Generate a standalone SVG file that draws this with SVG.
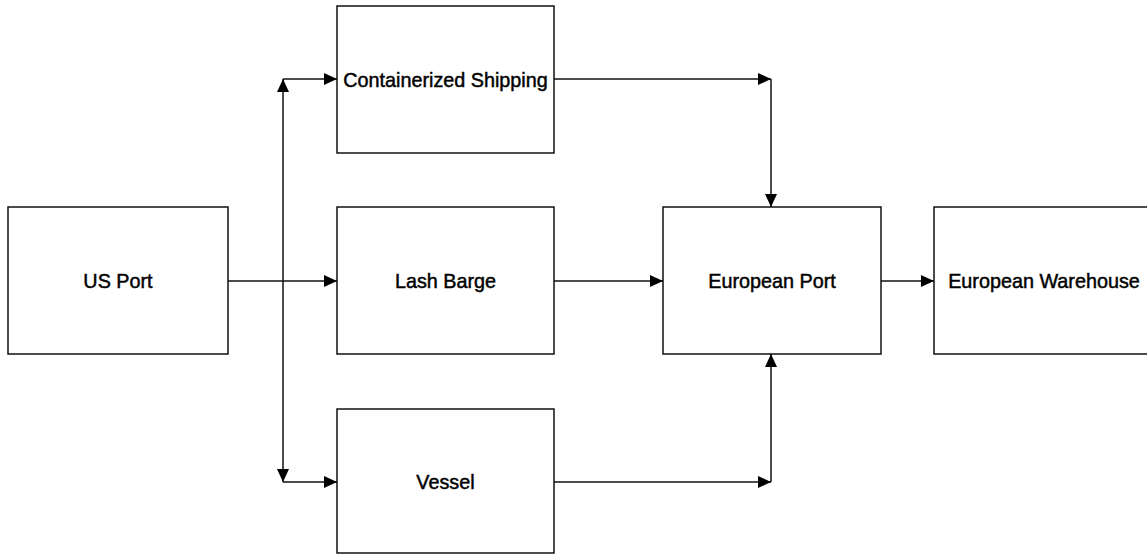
<svg xmlns="http://www.w3.org/2000/svg" width="1147" height="554" viewBox="0 0 1147 554">
<style>
.box{fill:#fff;stroke:#111;stroke-width:1.5}
.lbl{font-family:"Liberation Sans",Arial,sans-serif;font-size:19.8px;fill:#000;stroke:#000;stroke-width:0.45;text-anchor:middle}
.conn{fill:none;stroke:#111;stroke-width:1.5}
</style>
<defs>
<marker id="ah" markerUnits="userSpaceOnUse" markerWidth="13" markerHeight="12" viewBox="0 0 13 12" refX="13" refY="6" orient="auto">
<path d="M0,0 L13,6 L0,12 Z" fill="#000"/>
</marker>
</defs>
<rect width="1147" height="554" fill="#fff"/>
<g id="us-port"><rect class="box" x="8" y="207" width="220" height="147"/><text class="lbl" x="118" y="288">US Port</text></g>
<g id="containerized"><rect class="box" x="337" y="6" width="217" height="147"/><text class="lbl" x="445.5" y="87">Containerized Shipping</text></g>
<g id="lash-barge"><rect class="box" x="337" y="207" width="217" height="147"/><text class="lbl" x="445.5" y="288">Lash Barge</text></g>
<g id="vessel"><rect class="box" x="337" y="409" width="217" height="144"/><text class="lbl" x="445.5" y="489">Vessel</text></g>
<g id="european-port"><rect class="box" x="663" y="207" width="218" height="147"/><text class="lbl" x="772" y="288">European Port</text></g>
<g id="european-warehouse"><rect class="box" x="934" y="207" width="220" height="147"/><text class="lbl" x="1044" y="288">European Warehouse</text></g>
<g id="connectors">
<path class="conn" d="M228,281 H337" marker-end="url(#ah)"/>
<path class="conn" d="M283,281 V79" marker-end="url(#ah)"/>
<path class="conn" d="M283,281 V482" marker-end="url(#ah)"/>
<path class="conn" d="M283,79 H337" marker-end="url(#ah)"/>
<path class="conn" d="M283,482 H337" marker-end="url(#ah)"/>
<path class="conn" d="M554,79 H771" marker-end="url(#ah)"/>
<path class="conn" d="M771,79 V207" marker-end="url(#ah)"/>
<path class="conn" d="M554,482 H771" marker-end="url(#ah)"/>
<path class="conn" d="M771,482 V354" marker-end="url(#ah)"/>
<path class="conn" d="M554,281 H663" marker-end="url(#ah)"/>
<path class="conn" d="M881,281 H934" marker-end="url(#ah)"/>
</g>
</svg>
